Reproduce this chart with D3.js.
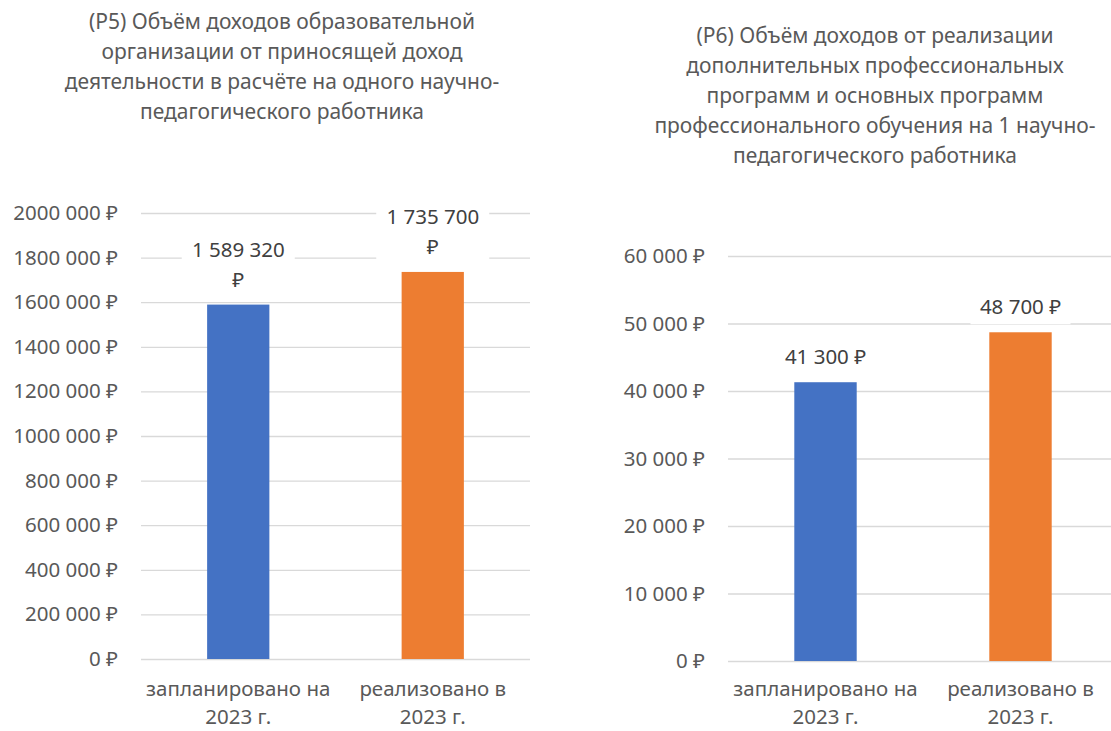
<!DOCTYPE html>
<html>
<head>
<meta charset="utf-8">
<script src="https://cdn.jsdelivr.net/npm/d3@7"></script>
<style>
  html, body { margin: 0; padding: 0; background: #fff; }
  svg { display: block; font-family: "Noto Sans", "Open Sans", sans-serif; }
</style>
</head>
<body>
<svg id="chart" width="1111" height="731"></svg>
<script>
// ---- data ----
const categories = ["запланировано на 2023 г.", "реализовано в 2023 г."];
const categoryLines = [["запланировано на", "2023 г."], ["реализовано в", "2023 г."]];
const colors = ["#4472c4", "#ed7d31"];

const titleP5 = ["(P5) Объём доходов образовательной", "организации от приносящей доход", "деятельности в расчёте на одного научно-", "педагогического работника"];
const valuesP5 = [1589320, 1735700];
const labelsP5 = [["1 589 320", "₽"], ["1 735 700", "₽"]];
const ticksP5 = [0, 200000, 400000, 600000, 800000, 1000000, 1200000, 1400000, 1600000, 1800000, 2000000];
const tickLabelsP5 = ["0 ₽", "200 000 ₽", "400 000 ₽", "600 000 ₽", "800 000 ₽", "1000 000 ₽", "1200 000 ₽", "1400 000 ₽", "1600 000 ₽", "1800 000 ₽", "2000 000 ₽"];

const titleP6 = ["(P6) Объём доходов от реализации", "дополнительных профессиональных", "программ и основных программ", "профессионального обучения на 1 научно-", "педагогического работника"];
const valuesP6 = [41300, 48700];
const labelsP6 = [["41 300 ₽"], ["48 700 ₽"]];
const ticksP6 = [0, 10000, 20000, 30000, 40000, 50000, 60000];
const tickLabelsP6 = ["0 ₽", "10 000 ₽", "20 000 ₽", "30 000 ₽", "40 000 ₽", "50 000 ₽", "60 000 ₽"];

// ---- drawing ----
const svg = d3.select("#chart");
const FS = 20.5;

function drawChart(cfg) {
  const g = svg.append("g");
  const x = d3.scaleBand().domain(categories).range([cfg.x0, cfg.x1]).paddingInner(0.68).paddingOuter(0.34);
  const y = d3.scaleLinear().domain([0, cfg.max]).range([cfg.y0, cfg.y1]);

  // title
  const t = g.append("text").attr("text-anchor", "middle").attr("fill", "#595959").attr("font-size", cfg.titleSize);
  cfg.title.forEach((line, i) => {
    t.append("tspan").attr("x", cfg.titleX).attr("y", cfg.titleY + i * 30).attr("dy", "0.35em").text(line);
  });

  // y axis with gridlines
  const axis = d3.axisLeft(y)
    .tickValues(cfg.ticks)
    .tickFormat((d, i) => cfg.tickLabels[i])
    .tickSizeInner(-(cfg.x1Grid - cfg.x0))
    .tickSizeOuter(0)
    .tickPadding(23);
  const ag = g.append("g").attr("transform", `translate(${cfg.x0},0)`).call(axis);
  ag.select(".domain").remove();
  ag.selectAll(".tick line").attr("stroke", "#d9d9d9").attr("stroke-width", 1.3);
  ag.selectAll(".tick text").attr("fill", "#595959").attr("font-size", FS).attr("font-family", "Noto Sans, Open Sans, sans-serif");

  // bars
  g.selectAll("rect.bar").data(cfg.values).join("rect")
    .attr("class", "bar")
    .attr("x", (d, i) => x(categories[i]))
    .attr("width", x.bandwidth())
    .attr("y", d => y(d))
    .attr("height", d => y(0) - y(d))
    .attr("fill", (d, i) => colors[i]);

  // data labels with white background boxes
  cfg.values.forEach((v, i) => {
    const cx = x(categories[i]) + x.bandwidth() / 2;
    const lines = cfg.labels[i];
    const lastY = y(v) - 25;
    const firstY = lastY - (lines.length - 1) * 30;
    g.append("rect")
      .attr("x", cx - cfg.boxW / 2)
      .attr("y", firstY - 17)
      .attr("width", cfg.boxW)
      .attr("height", lastY - firstY + 34)
      .attr("fill", "#fff");
    const lt = g.append("text").attr("text-anchor", "middle").attr("fill", "#404040").attr("font-size", FS);
    lines.forEach((line, j) => {
      lt.append("tspan").attr("x", cx).attr("y", firstY + j * 30).attr("dy", "0.35em").text(line);
    });
  });

  // category labels
  categoryLines.forEach((lines, i) => {
    const cx = x(categories[i]) + x.bandwidth() / 2;
    const ct = g.append("text").attr("text-anchor", "middle").attr("fill", "#595959").attr("font-size", FS);
    lines.forEach((line, j) => {
      ct.append("tspan").attr("x", cx).attr("y", cfg.catY + j * 28).attr("dy", "0.35em").text(line);
    });
  });
}

drawChart({
  x0: 141, x1: 530, x1Grid: 530, y0: 659, y1: 213, max: 2000000,
  ticks: ticksP5, tickLabels: tickLabelsP5, values: valuesP5, labels: labelsP5,
  title: titleP5, titleX: 282, titleY: 22, titleSize: 21, boxW: 113, catY: 689
});

drawChart({
  x0: 728, x1: 1118, x1Grid: 1118, y0: 661, y1: 256, max: 60000,
  ticks: ticksP6, tickLabels: tickLabelsP6, values: valuesP6, labels: labelsP6,
  title: titleP6, titleX: 875, titleY: 36, titleSize: 21, boxW: 100, catY: 689
});
</script>
</body>
</html>
